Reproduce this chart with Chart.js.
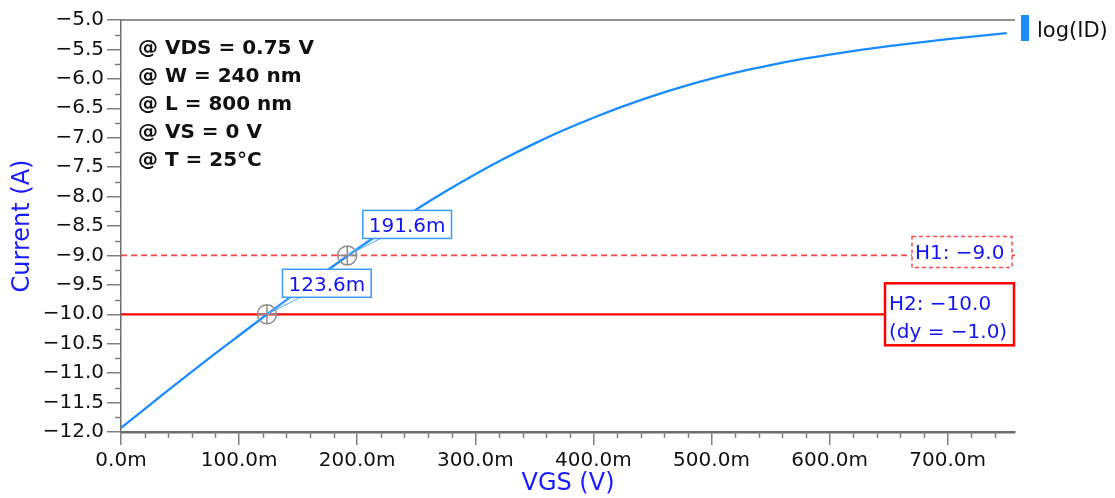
<!DOCTYPE html>
<html>
<head>
<meta charset="utf-8">
<script src="https://cdn.jsdelivr.net/npm/chart.js@4/dist/chart.umd.min.js"></script>
<style>
  html, body { margin: 0; padding: 0; background: #fff; }
  canvas { display: block; }
</style>
</head>
<body>
<canvas id="c" width="1115" height="498"></canvas>
<script>
// Transfer characteristic: log10(ID) against gate-source voltage
const vgs = [0, 0.025, 0.05, 0.075, 0.1, 0.125, 0.15, 0.175, 0.2, 0.225, 0.25, 0.275, 0.3, 0.325,
  0.35, 0.375, 0.4, 0.425, 0.45, 0.475, 0.5, 0.525, 0.55, 0.575, 0.6, 0.625, 0.65, 0.675, 0.7, 0.725, 0.75];
const logId = [-11.93, -11.53, -11.13, -10.74, -10.36, -9.98, -9.61, -9.25, -8.89, -8.55, -8.22, -7.91,
  -7.62, -7.35, -7.10, -6.87, -6.66, -6.467, -6.292, -6.135, -5.995, -5.872, -5.765, -5.67, -5.588,
  -5.513, -5.445, -5.383, -5.325, -5.273, -5.224];

// Horizontal cursors and the curve crossings they produce
const h1Level = -9.0;
const h2Level = -10.0;
const crossVgs = [0.1236, 0.1916];
const crossLog = [-10.0, -9.0];
const crossText = ['123.6m', '191.6m'];

// Axis ranges and tick spacing
const xRange = [0, 0.757];
const yRange = [-12, -5];
const xStep = 0.1, xMinor = 0.02;
const yStep = 0.5, yMinor = 0.25;

// Simulation conditions listed in the upper-left corner
const conditions = ['@ VDS = 0.75 V', '@ W = 240 nm', '@ L = 800 nm', '@ VS = 0 V', '@ T = 25\u00B0C'];
const seriesName = 'log(ID)';

const MINUS = '\u2212';
const fmt = v => (v < -1e-9 ? MINUS : '') + Math.abs(v).toFixed(1);
const fmtMilli = v => (Math.abs(v) < 1e-9 ? 0 : v * 1000).toFixed(1) + 'm';

const BLUE_LINE = '#1a8cff';
const BLUE_TEXT = '#1414f0';
const GREY = '#6e6e6e';
const FONT = 'DejaVu Sans';

Chart.defaults.font.family = FONT;
Chart.defaults.font.size = 20;
Chart.defaults.color = '#111';

function boxedText(ctx, lines, left, top, width, height, opts) {
  ctx.save();
  ctx.fillStyle = '#fff';
  ctx.fillRect(left, top, width, height);
  ctx.strokeStyle = opts.border;
  ctx.lineWidth = opts.borderWidth;
  ctx.setLineDash(opts.dash || []);
  ctx.strokeRect(left, top, width, height);
  ctx.setLineDash([]);
  ctx.fillStyle = BLUE_TEXT;
  ctx.font = '20px "' + FONT + '"';
  ctx.textAlign = 'left';
  ctx.textBaseline = 'alphabetic';
  lines.forEach((t, i) => ctx.fillText(t, left + opts.padX, top + opts.firstBase + i * opts.lineGap));
  ctx.restore();
}

const decor = {
  id: 'decor',
  afterDatasetsDraw(chart) {
    const { ctx, chartArea: a, scales: { x, y } } = chart;
    ctx.save();

    // frame line along the top of the plot
    ctx.strokeStyle = GREY;
    ctx.lineWidth = 1.5;
    ctx.beginPath();
    ctx.moveTo(a.left, a.top);
    ctx.lineTo(a.right, a.top);
    ctx.stroke();

    // minor ticks
    ctx.strokeStyle = '#808080';
    ctx.lineWidth = 1.5;
    ctx.beginPath();
    const nY = Math.round((yRange[1] - yRange[0]) / yMinor);
    for (let i = 0; i <= nY; i++) {
      const v = yRange[0] + i * yMinor;
      if (Math.abs(v / yStep - Math.round(v / yStep)) < 1e-6) continue;
      const py = Math.round(y.getPixelForValue(v)) + 0.5;
      ctx.moveTo(a.left - 6, py);
      ctx.lineTo(a.left, py);
    }
    const nX = Math.floor((xRange[1] - xRange[0]) / xMinor + 1e-6);
    for (let i = 0; i <= nX; i++) {
      const v = xRange[0] + i * xMinor;
      if (Math.abs(v / xStep - Math.round(v / xStep)) < 1e-6) continue;
      const px = Math.round(x.getPixelForValue(v)) + 0.5;
      ctx.moveTo(px, a.bottom);
      ctx.lineTo(px, a.bottom + 6);
    }
    ctx.stroke();

    // crossing labels with leader lines
    ctx.font = '20px "' + FONT + '"';
    crossVgs.forEach((vx, i) => {
      const px = x.getPixelForValue(vx);
      const py = y.getPixelForValue(crossLog[i]);
      const w = ctx.measureText(crossText[i]).width + 12;
      const h = 28;
      const left = px + 15.5;
      const top = py - 17 - h;
      ctx.strokeStyle = '#55a8ff';
      ctx.lineWidth = 1;
      ctx.beginPath();
      ctx.moveTo(px, py);
      ctx.lineTo(left + 8, top + h);
      ctx.moveTo(px, py);
      ctx.lineTo(left + 18, top + h);
      ctx.stroke();
      boxedText(ctx, [crossText[i]], left, top, w, h,
        { border: '#3d9bff', borderWidth: 1.5, padX: 6, firstBase: 21.5, lineGap: 0 });
    });

    // cursor value boxes at the right end of the horizontal lines
    const y1 = y.getPixelForValue(h1Level);
    boxedText(ctx, ['H1: ' + fmt(h1Level)], a.right - 103, y1 - 19, 100, 31,
      { border: '#ff4d4d', borderWidth: 1.5, dash: [4, 3], padX: 3, firstBase: 22.5, lineGap: 0 });
    const y2 = y.getPixelForValue(h2Level);
    boxedText(ctx, ['H2: ' + fmt(h2Level), '(dy = ' + fmt(h2Level - h1Level) + ')'],
      a.right - 130, y2 - 31, 129, 62,
      { border: '#ff0000', borderWidth: 2.5, padX: 4, firstBase: 27, lineGap: 27.8 });

    // simulation conditions
    ctx.fillStyle = '#111';
    ctx.font = 'bold 20px "' + FONT + '"';
    ctx.textAlign = 'left';
    ctx.textBaseline = 'alphabetic';
    conditions.forEach((t, i) => ctx.fillText(t, a.left + 17, a.top + 33.5 + i * 28.2));

    // legend entry
    ctx.fillStyle = BLUE_LINE;
    ctx.fillRect(a.right + 6, a.top - 5, 8, 26);
    ctx.fillStyle = '#111';
    ctx.font = '21px "' + FONT + '"';
    ctx.fillText(seriesName, a.right + 22, a.top + 16.5);

    ctx.restore();
  }
};

const curvePoints = vgs.map((v, i) => ({ x: v, y: logId[i] }));
const lineAt = level => [{ x: xRange[0], y: level }, { x: xRange[1], y: level }];
const crossPoints = crossVgs.map((v, i) => ({ x: v, y: crossLog[i] }));

new Chart(document.getElementById('c'), {
  type: 'scatter',
  data: {
    datasets: [
      {
        label: 'crossing ring',
        data: crossPoints,
        pointStyle: 'circle',
        pointRadius: 9.5,
        pointBorderColor: '#8c8c8c',
        pointBackgroundColor: 'rgba(0,0,0,0)',
        pointBorderWidth: 1.5,
        showLine: false,
        order: 0
      },
      {
        label: 'crossing hair',
        data: crossPoints,
        pointStyle: 'cross',
        pointRadius: 9.5,
        pointBorderColor: '#8c8c8c',
        pointBorderWidth: 1.5,
        showLine: false,
        order: 0
      },
      {
        label: seriesName,
        data: curvePoints,
        showLine: true,
        borderColor: BLUE_LINE,
        borderWidth: 2.3,
        pointRadius: 0,
        cubicInterpolationMode: 'monotone',
        order: 1
      },
      {
        label: 'H1',
        data: lineAt(h1Level),
        showLine: true,
        borderColor: '#ff4545',
        borderWidth: 1.8,
        borderDash: [6, 4],
        pointRadius: 0,
        order: 2
      },
      {
        label: 'H2',
        data: lineAt(h2Level),
        showLine: true,
        borderColor: '#ff0000',
        borderWidth: 2.2,
        pointRadius: 0,
        order: 2
      }
    ]
  },
  options: {
    responsive: false,
    animation: false,
    events: [],
    layout: { padding: { left: 0, right: 100, top: 20, bottom: 0 } },
    plugins: {
      legend: { display: false },
      tooltip: { enabled: false }
    },
    scales: {
      x: {
        type: 'linear',
        min: xRange[0],
        max: xRange[1],
        afterFit: s => { s.height = 66; },
        border: { color: GREY, width: 2.5 },
        grid: { drawOnChartArea: false, drawTicks: true, tickLength: 13, color: '#808080', lineWidth: 1.5 },
        ticks: {
          stepSize: xStep,
          includeBounds: false,
          autoSkip: false,
          maxRotation: 0,
          padding: 4,
          color: '#111',
          font: { size: 20 },
          callback: v => fmtMilli(v)
        },
        title: {
          display: true,
          text: 'VGS (V)',
          color: '#1a1aff',
          font: { size: 24 },
          padding: { top: 0, bottom: 0 }
        }
      },
      y: {
        type: 'linear',
        min: yRange[0],
        max: yRange[1],
        afterFit: s => { s.width = 121; },
        border: { color: GREY, width: 1.5 },
        grid: { drawOnChartArea: false, drawTicks: true, tickLength: 14, color: '#808080', lineWidth: 1.5 },
        ticks: {
          stepSize: yStep,
          autoSkip: false,
          padding: 3,
          color: '#111',
          font: { size: 20 },
          callback: v => fmt(v)
        },
        title: {
          display: true,
          text: 'Current (A)',
          color: '#1a1aff',
          font: { size: 24 },
          padding: { top: 8, bottom: 0 }
        }
      }
    }
  },
  plugins: [decor]
});
</script>
</body>
</html>
